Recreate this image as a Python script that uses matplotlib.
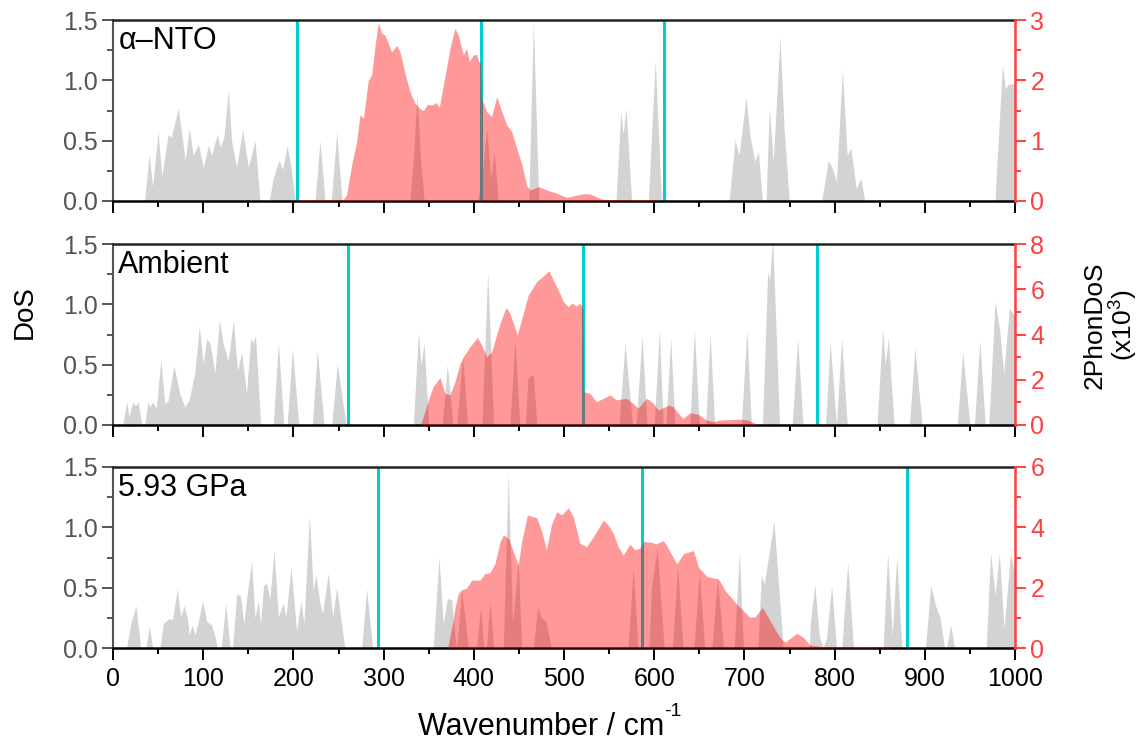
import matplotlib
matplotlib.use('Agg')
import matplotlib.pyplot as plt
from matplotlib.ticker import MultipleLocator

plt.rcParams['font.family'] = ['Liberation Sans', 'DejaVu Sans']
plt.rcParams['mathtext.fontset'] = 'custom'
plt.rcParams['mathtext.rm'] = 'Liberation Sans'
plt.rcParams['mathtext.it'] = 'Liberation Sans:italic'

# ---------------- data ----------------
panel_labels = ['\u03b1\u2013NTO', 'Ambient', '5.93 GPa']
right_max = [3, 8, 6]
right_major = [1, 2, 2]
right_minor = [0.5, 1, 1]
cyan_lines = [[204, 408, 611], [261, 521, 781], [293.5, 587, 880]]

# Panel 1 (alpha-NTO) DoS
dos1_x = [0, 35, 40, 44, 50, 54, 61, 64.6, 72.4, 80, 84.6, 89, 94.6, 100, 105.7, 109, 115.7, 118.7, 123,
          127.8, 131.5, 137, 143.7, 150, 157.4, 163, 173, 178, 184, 188, 193, 197, 202, 224, 229.5, 235,
          242, 248, 254, 329, 333, 337, 341, 345, 404, 409, 414.3, 419, 422.7, 427, 461, 466, 472,
          557.6, 563, 565.6, 568.7, 575, 593.5, 601.2, 608, 683, 689.6, 694, 701.8, 706, 711.5, 715.5,
          720, 724, 727.6, 732, 739.5, 744, 749.8, 785.6, 793, 797, 802, 808.6, 814, 818, 824, 829,
          833.5, 977.8, 986, 989.5, 992.5, 1000]
dos1_y = [0, 0, 0.39, 0.12, 0.58, 0.20, 0.55, 0.53, 0.77, 0.34, 0.60, 0.38, 0.47, 0.28, 0.46, 0.38, 0.55, 0.45, 0.53,
          0.92, 0.50, 0.28, 0.59, 0.28, 0.50, 0, 0, 0.20, 0.34, 0.26, 0.46, 0.30, 0, 0, 0.50, 0,
          0, 0.57, 0, 0, 0.35, 0.88, 0.35, 0, 0, 0.20, 0.60, 0.19, 0.41, 0, 0, 1.49, 0,
          0, 0.75, 0.55, 0.77, 0, 0, 1.17, 0, 0, 0.51, 0.38, 0.86, 0.55, 0.33, 0.41,
          0, 0, 0.77, 0.33, 1.36, 0.60, 0, 0, 0.34, 0.28, 0.16, 1.09, 0.38, 0.44, 0.10, 0.19,
          0, 0, 1.13, 0.93, 0.97, 0.97]
two1_x = [200, 205, 255, 259, 264.6, 270, 273.8, 277.6, 283, 286.8, 290.5, 294.2, 297.8, 301.5, 305.2,
          308.9, 314.5, 318.2, 323.8, 329.3, 334.8, 340.4, 344, 348.5, 353.3, 358, 361.8, 368, 373.6,
          379, 382.8, 388.4, 392, 395, 399.4, 403, 405.7, 407.5, 408.7, 414.3, 419.8, 425.4, 431,
          436.5, 442, 447.6, 453, 458.7, 462.4, 471.7, 481, 490, 503, 521, 528.5, 541.8, 560, 600, 610]
two1_y = [0, 0.02, 0.02, 0.10, 0.60, 0.98, 1.43, 1.37, 2.00, 2.09, 2.58, 2.96, 2.78, 2.75, 2.61,
          2.47, 2.58, 2.47, 2.11, 1.81, 1.62, 1.53, 1.50, 1.60, 1.59, 1.63, 1.56, 2.06, 2.53,
          2.86, 2.75, 2.42, 2.53, 2.31, 2.42, 2.43, 2.31, 2.30, 1.70, 1.48, 1.40, 1.73, 1.48,
          1.26, 1.15, 0.87, 0.62, 0.26, 0.18, 0.24, 0.18, 0.14, 0.06, 0.12, 0.12, 0.03, 0.02, 0.02, 0]

# Panel 2 (Ambient) DoS
dos2_x = [0, 10.7, 15.2, 17.7, 22, 25, 28, 32, 35, 38.7, 41, 44, 48, 53, 57.3, 61, 67.6, 74, 79.7, 84.5,
          91, 95.7, 100, 103.8, 107.5, 113, 117.9, 122, 127.8, 133.4, 138, 142.6, 148, 152.6, 155, 158,
          163.7, 177.6, 183.3, 189.4, 193, 199, 206, 221, 226.5, 234, 242.5, 248.7, 258.3,
          333, 338.5, 341.5, 344.8, 350, 365, 370.6, 377, 381, 387.7, 393, 409, 415.4, 422,
          440, 445.7, 451, 457, 460, 462.3, 466, 470, 561, 567.6, 576, 580, 586.5, 592, 600, 605.7,
          610, 613, 618.3, 623, 639.5, 644.5, 650, 657, 662, 667, 696.7, 702.6, 707.8, 720, 725.8,
          728, 731.3, 739, 753, 759, 765, 790, 795, 802, 807.8, 814, 847, 853.3, 856, 859.6, 866,
          883, 889, 897, 936, 942, 950, 955, 961, 967, 971, 977.8, 983, 987.6, 993.7, 1000]
dos2_y = [0, 0, 0.19, 0.07, 0.19, 0.16, 0.19, 0, 0, 0.19, 0.15, 0.19, 0.14, 0.54, 0.18, 0.20, 0.49, 0.26, 0.15, 0.21,
          0.45, 0.82, 0.51, 0.71, 0.68, 0.43, 0.87, 0.68, 0.53, 0.87, 0.45, 0.60, 0.26, 0.72, 0.68, 0.74,
          0, 0, 0.68, 0, 0, 0.63, 0, 0, 0.62, 0, 0, 0.51, 0,
          0, 0.77, 0.50, 0.68, 0, 0, 0.50, 0, 0, 0.57, 0, 0, 1.27, 0,
          0, 0.70, 0, 0, 0.38, 0.41, 0.41, 0, 0, 0.68, 0, 0, 0.74, 0, 0, 0.79,
          0, 0, 0.72, 0, 0, 0.79, 0, 0, 0.75, 0, 0, 0.79, 0, 0, 1.27,
          1.20, 1.55, 0, 0, 0.72, 0, 0, 0.69, 0, 0.72, 0, 0, 0.80, 0.50, 0.72, 0,
          0, 0.64, 0, 0, 0.60, 0, 0, 0.70, 0, 0, 1.02, 0.79, 0.43, 0.97, 0.90]
two2_x = [341, 349.6, 355, 362.5, 368, 373.5, 379, 384.7, 388.4, 395.8, 403.9, 408.7, 414.2, 419.8, 429,
          435.7, 440, 448.2, 454.9, 460.4, 464, 469.7, 476.4, 483.4, 488, 493.7, 499.3, 504.8, 508.5,
          514, 517.7, 520, 521, 521.8, 528.8, 536, 543.5, 551, 558, 569, 576.6, 582, 591.7, 599,
          604.5, 615.6, 621, 628.5, 632, 639.7, 649, 658, 665.6, 673, 695, 704, 713, 715]
two2_y = [0, 1.10, 1.70, 2.10, 1.40, 1.33, 1.90, 2.72, 3.02, 3.46, 3.87, 3.54, 3.02, 3.24, 4.49,
          5.19, 4.94, 3.98, 4.94, 5.75, 5.97, 6.34, 6.56, 6.82, 6.41, 5.97, 5.45, 5.23, 5.38,
          5.26, 5.38, 5.23, 5.10, 1.47, 1.40, 1.03, 1.18, 1.33, 1.11, 1.18, 0.96, 0.74, 1.18, 0.96,
          0.66, 0.88, 0.81, 0.44, 0.29, 0.54, 0.47, 0.22, 0.15, 0.22, 0.26, 0.22, 0.05, 0]

# Panel 3 (5.93 GPa) DoS
dos3_x = [0, 15, 19.6, 25.5, 30.6, 36.5, 40.2, 44, 52, 55.7, 61, 66, 71.3, 75, 78.7, 82.4, 84.6, 87.6, 91,
          94.6, 99.4, 103.8, 109.4, 113, 115.7, 120, 124.9, 129.7, 132.6, 137, 141.4, 145, 148.8, 153.7,
          157.4, 161, 163.6, 167, 170, 174, 178.5, 183.3, 188.8, 191.7, 197.3, 203.5, 208.3, 211.6,
          217.7, 222, 225, 229.4, 232.4, 238.7, 243.5, 248, 257, 275.7, 281.2, 287.8,
          355, 361.4, 366, 370.6, 375.5, 379, 381, 386.6, 394, 403, 407.6, 411, 414, 418, 422,
          432.6, 438.2, 443, 449.3, 453, 466, 470.8, 475, 480, 486, 571, 576.8, 582, 594, 597, 603.4,
          611, 620, 626, 632, 644, 650, 656, 664, 670, 677, 688.6, 694.4, 699, 715, 718.7, 722, 732.8,
          743, 772, 773, 778, 783, 787, 791, 796.7, 802, 808, 814.5, 821, 853.7, 858.8, 864, 868.8,
          874.6, 900.8, 906.5, 912, 917, 922, 924, 928.7, 933, 968, 973, 978, 982.6, 987.8, 995, 1000]
dos3_y = [0, 0, 0.20, 0.35, 0, 0, 0.18, 0, 0, 0.20, 0.24, 0.24, 0.49, 0.26, 0.35, 0.25, 0.11, 0.19, 0.11,
          0.22, 0.39, 0.22, 0.19, 0.10, 0, 0, 0.37, 0, 0, 0.45, 0.43, 0.20, 0.45, 0.72,
          0.25, 0.39, 0.20, 0.52, 0.54, 0.41, 0.81, 0.26, 0.37, 0.25, 0.67, 0.14, 0.39, 0.20,
          1.10, 0.48, 0.61, 0.37, 0.29, 0.62, 0.26, 0.50, 0, 0, 0.49, 0,
          0, 0.76, 0.20, 0.41, 0.40, 0.10, 0, 0.48, 0, 0, 0.34, 0, 0, 0.38, 0,
          0, 1.44, 0.20, 0.73, 0, 0, 0.34, 0.25, 0.22, 0, 0, 0.67, 0, 0, 0.50, 0.83,
          0, 0, 0.67, 0, 0, 0.64, 0, 0, 0.58, 0, 0, 0.79, 0, 0, 0.60, 0.53, 1.05,
          0, 0, 0.20, 0.53, 0.10, 0, 0.08, 0.52, 0, 0, 0.71, 0, 0, 0.79, 0.10, 0.76,
          0, 0, 0.52, 0.35, 0.25, 0, 0, 0.19, 0, 0, 0.79, 0.44, 0.79, 0.16, 0.78, 0.60]
two3_x = [371, 377.2, 379, 382.8, 386.6, 392, 397.6, 406.8, 412.4, 418, 423.5, 429, 432.7, 438.2, 443.8,
          449.3, 453, 459.4, 466, 469.7, 475.3, 480.5, 486, 491.9, 497.4, 504.8, 510.3, 517.7, 525,
          532.5, 543.6, 549, 554.6, 560, 565.7, 573, 578.6, 584, 588.5, 597.3, 602, 610, 613.8, 625,
          632.5, 643.6, 649, 658.4, 671.3, 678.7, 691.4, 706, 711.7, 720, 728.3, 739.4, 745, 758,
          765.4, 772.8, 787.5, 828, 861.4, 865]
two3_y = [0, 0.93, 1.31, 1.81, 1.93, 1.99, 2.25, 2.25, 2.47, 2.50, 2.80, 3.52, 3.75, 3.64, 3.20,
          2.75, 3.52, 4.41, 4.35, 4.32, 3.86, 3.25, 4.08, 4.52, 4.41, 4.65, 4.35, 3.47, 3.36,
          3.69, 4.24, 4.08, 3.80, 3.36, 3.08, 3.44, 3.25, 3.31, 3.53, 3.50, 3.45, 3.56, 3.40, 2.79,
          3.13, 3.23, 2.68, 2.37, 2.29, 1.90, 1.46, 1.02, 1.03, 1.35, 0.91, 0.35, 0.19, 0.49,
          0.35, 0.10, 0.04, 0.04, 0.02, 0]

dos_x = [dos1_x, dos2_x, dos3_x]
dos_y = [dos1_y, dos2_y, dos3_y]
two_x = [two1_x, two2_x, two3_x]
two_y = [two1_y, two2_y, two3_y]

# ---------------- figure ----------------
fig = plt.figure(figsize=(11.4, 7.49), dpi=100)
W, H = 1140.0, 749.0
left = 113 / W
width = (1015 - 113) / W
tops_px = [20, 244, 467]
bots_px = [201, 425, 648]

GREY = '#D3D3D3'
CYAN = '#00CED1'
RED = '#FF4040'
SPGREY = '#555555'
TICKFS = 18

for i in range(3):
    b = 1 - bots_px[i] / H
    h = (bots_px[i] - tops_px[i]) / H
    ax = fig.add_axes([left, b, width, h])
    ax.fill_between(dos_x[i], dos_y[i], 0, color=GREY, lw=0, zorder=1)
    for c in cyan_lines[i]:
        ax.axvline(c, color=CYAN, lw=2.2, zorder=2)
    ax.set_xlim(0, 1000)
    ax.set_ylim(0, 1.5)
    ax.xaxis.set_major_locator(MultipleLocator(100))
    ax.xaxis.set_minor_locator(MultipleLocator(50))
    ax.yaxis.set_major_locator(MultipleLocator(0.5))
    ax.yaxis.set_minor_locator(MultipleLocator(0.25))
    ax.yaxis.set_major_formatter(matplotlib.ticker.FormatStrFormatter('%.1f'))
    ax.tick_params(axis='x', which='major', direction='out', length=8.5, width=1.4,
                   labelsize=TICKFS, pad=5, top=False, colors='black')
    ax.tick_params(axis='x', which='minor', direction='out', length=4.5, width=1.4, top=False)
    ax.tick_params(axis='y', which='major', direction='out', length=8, width=1.4,
                   labelsize=TICKFS, pad=3, colors=SPGREY, right=False)
    ax.tick_params(axis='y', which='minor', direction='out', length=4.5, width=1.4,
                   colors=SPGREY, right=False)
    if i < 2:
        ax.tick_params(axis='x', labelbottom=False)
    ax.spines['left'].set_color(SPGREY)
    ax.spines['left'].set_linewidth(1.5)
    ax.spines['top'].set_color('#222222')
    ax.spines['top'].set_linewidth(1.8)
    ax.spines['bottom'].set_color('black')
    ax.spines['bottom'].set_linewidth(1.8)
    ax.spines['right'].set_visible(False)
    ax.text(0.006, 0.965, panel_labels[i], transform=ax.transAxes, ha='left', va='top',
            fontsize=22, color='black', zorder=5)

    ax2 = ax.twinx()
    ax2.fill_between(two_x[i], two_y[i], 0, color='#FF0000', alpha=0.4, lw=0)
    ax2.set_xlim(0, 1000)
    ax2.set_ylim(0, right_max[i])
    ax2.yaxis.set_major_locator(MultipleLocator(right_major[i]))
    ax2.yaxis.set_minor_locator(MultipleLocator(right_minor[i]))
    ax2.tick_params(axis='y', which='major', direction='out', length=8, width=1.4,
                    labelsize=TICKFS, pad=3, colors=RED)
    ax2.tick_params(axis='y', which='minor', direction='out', length=4.5, width=1.4, colors=RED)
    for s in ['left', 'top', 'bottom']:
        ax2.spines[s].set_visible(False)
    ax2.spines['right'].set_color(RED)
    ax2.spines['right'].set_linewidth(1.8)

fig.text(25 / W, 1 - 312 / H, 'DoS', rotation=90, ha='center', va='center', fontsize=20)
fig.text(1111 / W, 1 - 325 / H, '2PhonDoS\n(x10$^{3}$)', rotation=90, ha='center', va='center',
         fontsize=19, linespacing=1.05, multialignment='center')
xl = fig.text(541 / W, 1 - 727 / H, 'Wavenumber / cm', ha='center', va='center', fontsize=22)
fig.texts.append(None) if False else None
ann = plt.annotate('-1', xy=(1.0, 0.72), xycoords=xl, ha='left', va='bottom', fontsize=14,
                   annotation_clip=False)

fig.savefig('out.png', dpi=100)
